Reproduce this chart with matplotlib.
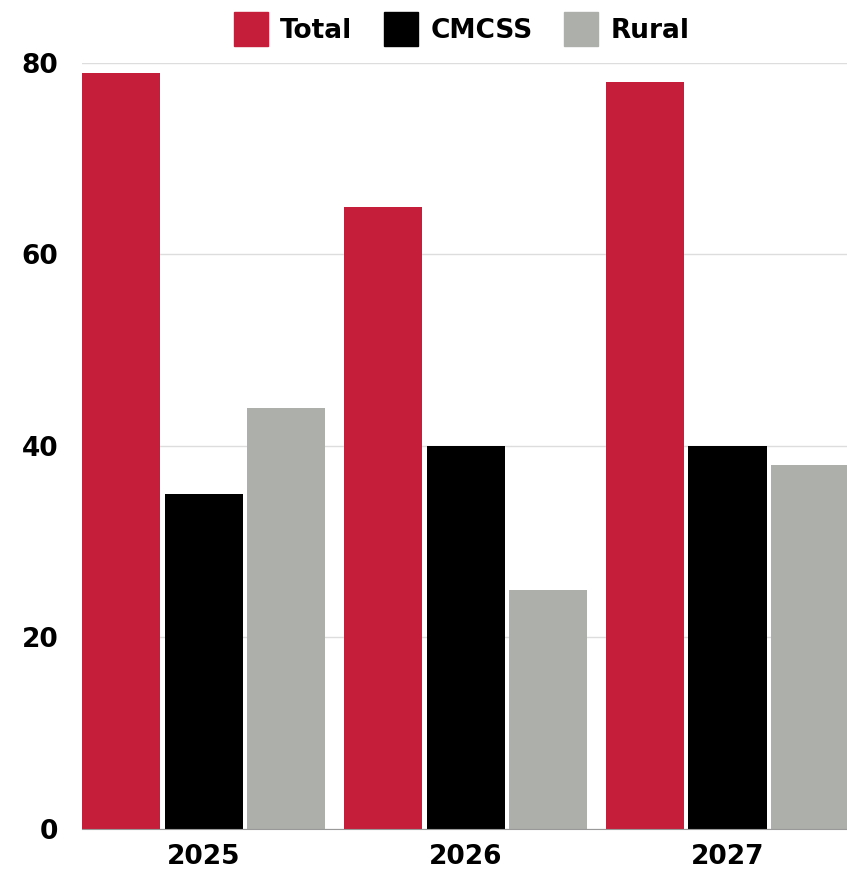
import numpy as np
import matplotlib.pyplot as plt

years = ['2025', '2026', '2027']
series = ['Total', 'CMCSS', 'Rural']
total = [79, 65, 78]
cmcss = [35, 40, 40]
rural = [44, 25, 38]
colors = ['#C41E3A', '#000000', '#ADAFAA']
yticks = [0, 20, 40, 60, 80]

plt.rcParams['font.family'] = ['DejaVu Sans']

fig = plt.figure(figsize=(8.47, 8.74), dpi=100)
ax = fig.add_axes([0.0968, 0.0515, 0.9032, 0.8765])

x = np.arange(len(years))
width = 0.298
step = 0.315
for i, (name, vals) in enumerate(zip(series, [total, cmcss, rural])):
    ax.bar(x + (i - 1) * step, vals, width, color=colors[i], label=name,
           zorder=3)

ax.set_xlim(-0.464, 2.456)
ax.set_ylim(0, 80)
ax.set_yticks(yticks)
ax.set_xticks(x)
ax.set_xticklabels(years)
ax.yaxis.grid(True, color='#DDDDDD', linewidth=1, zorder=0)
ax.set_axisbelow(True)
for s in ['top', 'right', 'left']:
    ax.spines[s].set_visible(False)
ax.spines['bottom'].set_color('#999999')
ax.spines['bottom'].set_zorder(4)
ax.tick_params(axis='both', length=0, labelsize=19)
ax.tick_params(axis='y', pad=17)
ax.tick_params(axis='x', pad=11)
for lab in ax.get_xticklabels() + ax.get_yticklabels():
    lab.set_fontweight('bold')

handles = [plt.Rectangle((0, 0), 1, 1, color=c) for c in colors]
fig.legend(handles, series, loc='upper center', bbox_to_anchor=(0.545, 1.014),
           ncol=3, frameon=False, prop={'size': 19, 'weight': 'bold'},
           handlelength=1.3, handleheight=1.65, handletextpad=0.45,
           columnspacing=1.2)

plt.savefig('out.png', dpi=100)
